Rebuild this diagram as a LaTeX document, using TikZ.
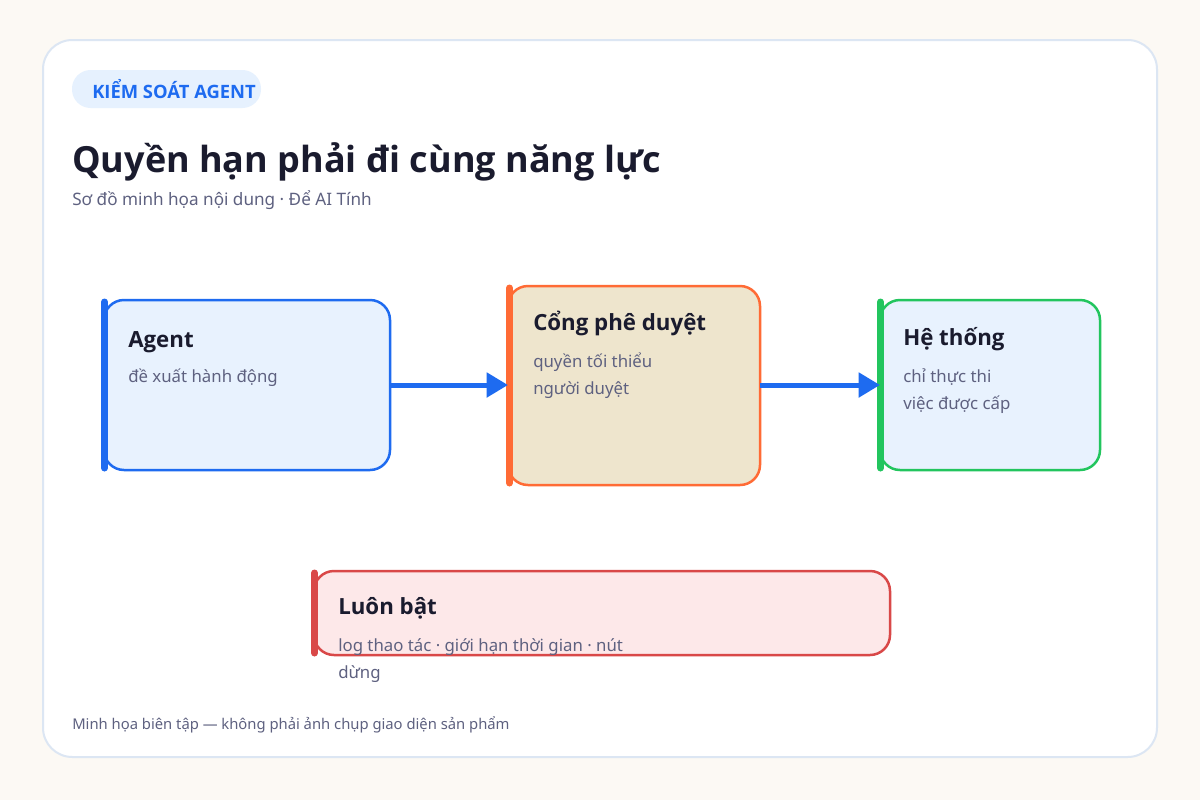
\documentclass[tikz,border=0pt]{standalone}
\usepackage{fontspec}
\setmainfont{Noto Sans}
\newfontfamily\headfont{Open Sans}
\usetikzlibrary{arrows.meta}
\definecolor{bgcream}{HTML}{FCF9F4}
\definecolor{cardline}{HTML}{DCE6F3}
\definecolor{badgefill}{HTML}{E6F1FE}
\definecolor{blueacc}{HTML}{1E6BF0}
\definecolor{bluefill}{HTML}{E8F2FE}
\definecolor{orangeacc}{HTML}{FF6B35}
\definecolor{beigefill}{HTML}{EEE5CD}
\definecolor{greenacc}{HTML}{22C55E}
\definecolor{redacc}{HTML}{D94848}
\definecolor{redfill}{HTML}{FDE8E9}
\definecolor{inkdark}{HTML}{1A1B2E}
\definecolor{inkgray}{HTML}{5E6180}
\tikzset{
  boxshape/.style={line width=2.5pt*0.75, rounded corners=15pt},
  sidebar/.style={line width=7pt*0.75, line cap=round},
  boxtitle/.style={anchor=base west, inner sep=0pt, font=\headfont\bfseries\fontsize{16.7pt}{20pt}\selectfont, text=inkdark},
  boxsub/.style={anchor=base west, inner sep=0pt, font=\fontsize{12.6pt}{15pt}\selectfont, text=inkgray},
  flow/.style={line width=5pt*0.75, draw=blueacc, -{Triangle[length=16pt, width=18pt]}, shorten >=0pt},
}
\begin{document}
\begin{tikzpicture}[x=0.75pt,y=-0.75pt]
\useasboundingbox (0,0) rectangle (1200,800);
\fill[bgcream] (0,0) rectangle (1200,800);
% card
\draw[fill=white, draw=cardline, line width=1.5pt, rounded corners=22pt] (43,40) rectangle (1157,757);
% badge
\fill[badgefill, rounded corners=14pt] (72,70) rectangle (261,108);
\node[anchor=base west, inner sep=0pt, text=blueacc, font=\headfont\bfseries\fontsize{13.8pt}{16pt}\selectfont] (badge) at (92,98) {KIỂM SOÁT AGENT};
% title
\node[anchor=base west, inner sep=0pt, text=inkdark, font=\headfont\bfseries\fontsize{27pt}{32pt}\selectfont] (title) at (72,172) {Quyền hạn phải đi cùng năng lực};
\node[anchor=base west, inner sep=0pt, text=inkgray, font=\fontsize{12.85pt}{15pt}\selectfont] (subtitle) at (72,205) {Sơ đồ minh họa nội dung · Để AI Tính};
% Agent box
\draw[boxshape, draw=blueacc, fill=bluefill] (104,300) rectangle (390,470);
\draw[sidebar, draw=blueacc] (104.5,302) -- (104.5,468);
\coordinate (agentE) at (390,385);
\node[boxtitle] (agentT) at (128,347) {Agent};
\node[boxsub] (agentS) at (128,382) {đề xuất hành động};
% Gate box
\draw[boxshape, draw=orangeacc, fill=beigefill] (508,286) rectangle (760,485);
\draw[sidebar, draw=orangeacc] (509.5,288) -- (509.5,483);
\coordinate (gateW) at (508,385);
\coordinate (gateE) at (760,385);
\node[boxtitle] (gateT) at (533,330) {Cổng phê duyệt};
\node[boxsub] (gateS1) at (533,367) {quyền tối thiểu};
\node[boxsub] (gateS2) at (533,394) {người duyệt};
% System box
\draw[boxshape, draw=greenacc, fill=bluefill] (880,300) rectangle (1100,470);
\draw[sidebar, draw=greenacc] (880.5,302) -- (880.5,468);
\coordinate (sysW) at (880,385);
\node[boxtitle] (sysT) at (903,345) {Hệ thống};
\node[boxsub] (sysS1) at (903,382) {chỉ thực thi};
\node[boxsub] (sysS2) at (903,409) {việc được cấp};
% arrows
\draw[flow] (agentE) -- (gateW);
\draw[flow] (gateE) -- (sysW);
% Always-on box
\draw[boxshape, draw=redacc, fill=redfill] (314,571) rectangle (890,655);
\draw[sidebar, draw=redacc] (314.5,573) -- (314.5,653);
\node[boxtitle] (onT) at (338,614) {Luôn bật};
\node[boxsub] (onS1) at (338,651) {log thao tác · giới hạn thời gian · nút};
\node[boxsub] (onS2) at (338,678) {dừng};
% footer
\node[anchor=base west, inner sep=0pt, text=inkgray, font=\fontsize{11.1pt}{14pt}\selectfont] (footer) at (72,729) {Minh họa biên tập — không phải ảnh chụp giao diện sản phẩm};
\end{tikzpicture}
\end{document}
